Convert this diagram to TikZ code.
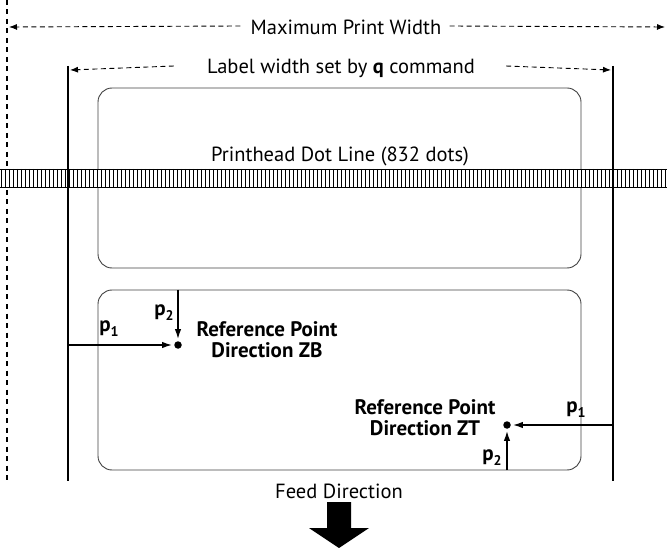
\documentclass[tikz,border=0pt]{standalone}
\usepackage{fontspec}
\setmainfont{PT Sans}
\usetikzlibrary{arrows.meta}
\begin{document}
\begin{tikzpicture}[x=1pt,y=-1pt,
  txt/.style={inner sep=0pt, font=\fontsize{20.5}{24}\selectfont},
  bold/.style={inner sep=0pt, align=center, font=\fontsize{21}{21}\selectfont\bfseries},
  dim/.style={dash pattern=on 5pt off 3.5pt, line width=0.9pt, -{Latex[length=8pt,width=6pt]}},
  bar/.style={line width=1.4pt},
  lab/.style={draw=black!75, line width=0.9pt, rounded corners=14pt},
  ptr/.style={line width=1.4pt, -{Latex[length=10pt,width=6.5pt]}, shorten >=2pt},
  refdot/.style={circle, fill, inner sep=0pt, minimum size=7.5pt},
  plab/.style={inner sep=0pt, font=\fontsize{21}{21}\selectfont\bfseries}]
\useasboundingbox (0,0) rectangle (667,548);
% maximum print width
\draw[line width=2pt, dash pattern=on 5pt off 4.5pt] (7,0) -- (7,482);
\node[txt] (mpw) at (346,27) {Maximum Print Width};
\coordinate (mpwL) at (9,27);
\coordinate (mpwR) at (665,27);
\draw[dim] ([xshift=-10pt,yshift=1pt]mpw.west) -- (mpwL);
\draw[dim] ([xshift=8pt,yshift=1pt]mpw.east) -- (mpwR);
% label width
\coordinate (lt) at (68,66); \coordinate (lb) at (68,481);
\coordinate (rt) at (613,66); \coordinate (rb) at (613,481);
\draw[bar] (lt) -- (lb);
\draw[bar] (rt) -- (rb);
\node[txt] (lw) at (341,68) {Label width set by \textbf{q} command};
\coordinate (lwL) at (70,70);
\coordinate (lwR) at (611,70);
\draw[dim] ([xshift=-33pt,yshift=2pt]lw.west) -- (lwL);
\draw[dim] ([xshift=31pt,yshift=2pt]lw.east) -- (lwR);
% labels
\draw[lab] (98,88) rectangle (581,268);
\draw[lab] (98,290) rectangle (581,470);
% printhead dot line
\node[txt] (pdl) at (340,156) {Printhead Dot Line (832 dots)};
\fill[white] (0,169) rectangle (667,188);
\foreach \x in {0,4,...,664}{
  \draw[line width=1.4pt] (\x+1.2,169) -- (\x+1.2,188);
}
\draw[line width=0.9pt] (0,169.4) -- (667,169.4);
\draw[line width=0.9pt] (0,187.6) -- (667,187.6);
\draw[bar] (68,160) -- (68,200);
\draw[bar] (613,160) -- (613,200);
% reference point ZB
\node[refdot] (zb) at (178,345) {};
\coordinate (zbL) at (68,345);
\coordinate (zbT) at (178,290);
\draw[ptr] (zbL) -- (zb.west);
\draw[ptr] (zbT) -- (zb.north);
\node[plab] (p1a) at (109,329) {p\raisebox{-5pt}{\fontsize{14}{14}\selectfont 1}};
\node[plab] (p2a) at (164,313) {p\raisebox{-5pt}{\fontsize{14}{14}\selectfont 2}};
\node[bold] (zbt) at (267,340) {Reference Point\\Direction ZB};
% reference point ZT
\node[refdot] (zt) at (507,425) {};
\coordinate (ztR) at (613,425);
\coordinate (ztB) at (507,470);
\draw[ptr] (ztR) -- (zt.east);
\draw[ptr] (ztB) -- (zt.south);
\node[plab] (p1b) at (576,410) {p\raisebox{-5pt}{\fontsize{14}{14}\selectfont 1}};
\node[plab] (p2b) at (492,458) {p\raisebox{-5pt}{\fontsize{14}{14}\selectfont 2}};
\node[bold] (ztt) at (425,418) {Reference Point\\Direction ZT};
% feed direction
\node[txt] (feed) at (339,491) {Feed Direction};
\fill (327,502) -- (351,502) -- (351,528) -- (369,528) -- (339,548) -- (309,528) -- (327,528) -- cycle;
\end{tikzpicture}
\end{document}
